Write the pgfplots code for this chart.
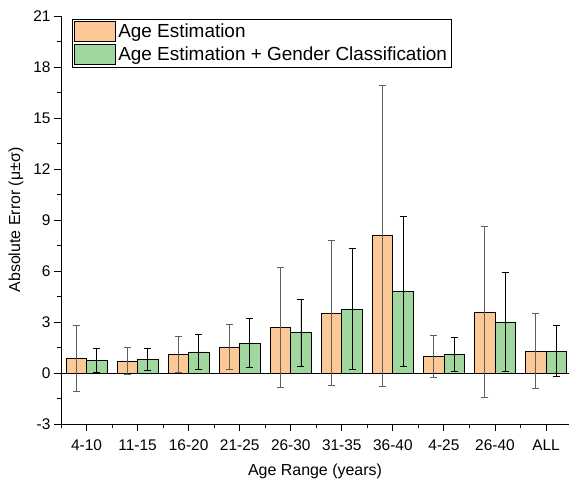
\documentclass[border=0pt]{standalone}
\usepackage{pgfplots}
\pgfplotsset{compat=1.18}
\usepackage{pgfplotstable}
\usepackage{fontspec}
\setmainfont{Liberation Sans}
\definecolor{orangebar}{HTML}{FCC896}
\definecolor{greenbar}{HTML}{9FD79E}
\definecolor{errgray}{HTML}{5F5F5F}
\pgfplotstableread{
x o oe g ge
0 0.86 1.93 0.76 0.70
1 0.71 0.77 0.80 0.63
2 1.10 1.07 1.24 1.05
3 1.53 1.31 1.76 1.43
4 2.70 3.53 2.37 1.96
5 3.53 4.28 3.75 3.55
6 8.08 8.86 4.80 4.41
7 0.96 1.23 1.08 1.01
8 3.59 5.04 3.00 2.92
9 1.29 2.22 1.29 1.49
}\datatable
\begin{document}
\begin{tikzpicture}
\begin{axis}[
  scale only axis,
  width=508bp, height=408bp,
  xmin=-0.5, xmax=9.45,
  ymin=-3, ymax=21,
  ybar,
  axis lines*=left,
  axis line style={line width=0.9bp},
  xtick={0,...,9},
  xticklabels={4-10,11-15,16-20,21-25,26-30,31-35,36-40,4-25,26-40,ALL},
  minor xtick={-0.5,0.5,...,9.5},
  ytick={-3,0,...,21},
  minor y tick num=1,
  tick align=outside,
  major tick length=7bp,
  minor tick length=4bp,
  tick style={black, line width=0.9bp},
  /pgf/number format/assume math mode=true,
  tick label style={font=\fontsize{15.5}{18}\selectfont},
  xticklabel style={yshift=-5bp},
  label style={font=\fontsize{16}{19}\selectfont},
  xlabel={Age Range (years)},
  ylabel={Absolute Error (μ±σ)},
  xlabel style={yshift=-7bp},
  ylabel style={yshift=3bp},
  legend style={at={(axis description cs:0.0217,0.9926)}, anchor=north west,
    font=\fontsize{19}{21}\selectfont, draw=black, line width=0.9bp,
    inner xsep=2bp, inner ysep=2bp, row sep=2bp, cells={anchor=west}},
  legend image code/.code={\draw[#1, line width=0.8bp] (0bp,-10bp) rectangle (41bp,10bp);},
  clip=false,
]
\draw[black, line width=0.9bp] (axis cs:-0.5,0) -- (axis cs:9.45,0);
\addplot[fill=orangebar, draw=black, line width=0.8bp, bar width=0.4, bar shift=-0.2,
  error bars/.cd, y dir=both, y explicit,
  error bar style={errgray, line width=0.9bp},
  error mark options={rotate=90, mark size=3.5bp, errgray, line width=0.9bp}]
  table[x=x, y=o, y error=oe]{\datatable};
\addlegendentry{Age Estimation}
\addplot[fill=greenbar, draw=black, line width=0.8bp, bar width=0.4, bar shift=0.2,
  error bars/.cd, y dir=both, y explicit,
  error bar style={black, line width=0.9bp},
  error mark options={rotate=90, mark size=3.5bp, black, line width=0.9bp}]
  table[x=x, y=g, y error=ge]{\datatable};
\addlegendentry{Age Estimation + Gender Classification}
\end{axis}
\pgfresetboundingbox
\path ([shift={(-61bp,-59bp)}]current axis.south west) rectangle ([shift={(0bp,16bp)}]current axis.north east);
\end{tikzpicture}
\end{document}
